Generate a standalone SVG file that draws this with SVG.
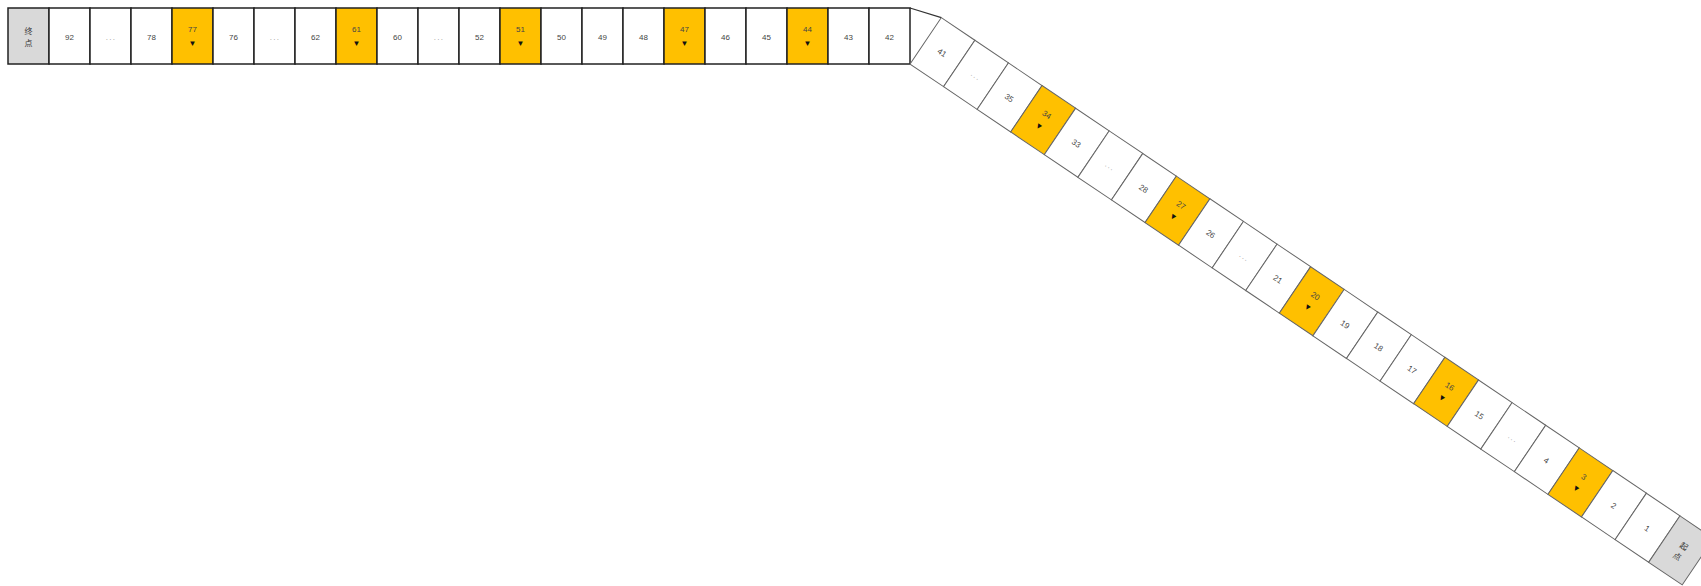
<svg xmlns="http://www.w3.org/2000/svg" width="1701" height="586" viewBox="0 0 1701 586">
<style>
.t{font-family:"Liberation Sans","Noto Sans CJK SC",sans-serif;font-size:8px;fill:#444;text-anchor:middle}
.d{fill:#999;letter-spacing:1.2px}
.c{font-family:"Noto Sans CJK SC","Liberation Sans",sans-serif;font-size:8px;fill:#333;text-anchor:middle}
.top rect{stroke:#222;stroke-width:1.5}
.diag rect{stroke:#666;stroke-width:1}
.w{fill:#fff}
.y{fill:#FFC000}
.g{fill:#d9d9d9}
.m{fill:#111}
</style>
<rect width="1701" height="586" fill="#fff"/>
<g id="connectors">
<polygon points="910,8 941.3,17.6 910,64" fill="#fff" stroke="none"/>
<polyline points="910,8 941.3,17.6" fill="none" stroke="#333" stroke-width="1.2"/>
</g>
<g class="top">
<g id="n-end"><rect class="g" x="8" y="8" width="41" height="56"/><text class="c" x="28.5" y="34">终</text><text class="c" x="28.5" y="46">点</text></g>
<g id="n92"><rect class="w" x="49" y="8" width="41" height="56"/><text class="t" x="69.5" y="39.5">92</text></g>
<g id="n-dots1"><rect class="w" x="90" y="8" width="41" height="56"/><text class="t d" x="111" y="39.5">...</text></g>
<g id="n78"><rect class="w" x="131" y="8" width="41" height="56"/><text class="t" x="151.5" y="39.5">78</text></g>
<g id="n77"><rect class="y" x="172" y="8" width="41" height="56"/><text class="t" x="192.5" y="32.3">77</text><text class="t m" x="192.5" y="46">▼</text></g>
<g id="n76"><rect class="w" x="213" y="8" width="41" height="56"/><text class="t" x="233.5" y="39.5">76</text></g>
<g id="n-dots2"><rect class="w" x="254" y="8" width="41" height="56"/><text class="t d" x="275" y="39.5">...</text></g>
<g id="n62"><rect class="w" x="295" y="8" width="41" height="56"/><text class="t" x="315.5" y="39.5">62</text></g>
<g id="n61"><rect class="y" x="336" y="8" width="41" height="56"/><text class="t" x="356.5" y="32.3">61</text><text class="t m" x="356.5" y="46">▼</text></g>
<g id="n60"><rect class="w" x="377" y="8" width="41" height="56"/><text class="t" x="397.5" y="39.5">60</text></g>
<g id="n-dots3"><rect class="w" x="418" y="8" width="41" height="56"/><text class="t d" x="439" y="39.5">...</text></g>
<g id="n52"><rect class="w" x="459" y="8" width="41" height="56"/><text class="t" x="479.5" y="39.5">52</text></g>
<g id="n51"><rect class="y" x="500" y="8" width="41" height="56"/><text class="t" x="520.5" y="32.3">51</text><text class="t m" x="520.5" y="46">▼</text></g>
<g id="n50"><rect class="w" x="541" y="8" width="41" height="56"/><text class="t" x="561.5" y="39.5">50</text></g>
<g id="n49"><rect class="w" x="582" y="8" width="41" height="56"/><text class="t" x="602.5" y="39.5">49</text></g>
<g id="n48"><rect class="w" x="623" y="8" width="41" height="56"/><text class="t" x="643.5" y="39.5">48</text></g>
<g id="n47"><rect class="y" x="664" y="8" width="41" height="56"/><text class="t" x="684.5" y="32.3">47</text><text class="t m" x="684.5" y="46">▼</text></g>
<g id="n46"><rect class="w" x="705" y="8" width="41" height="56"/><text class="t" x="725.5" y="39.5">46</text></g>
<g id="n45"><rect class="w" x="746" y="8" width="41" height="56"/><text class="t" x="766.5" y="39.5">45</text></g>
<g id="n44"><rect class="y" x="787" y="8" width="41" height="56"/><text class="t" x="807.5" y="32.3">44</text><text class="t m" x="807.5" y="46">▼</text></g>
<g id="n43"><rect class="w" x="828" y="8" width="41" height="56"/><text class="t" x="848.5" y="39.5">43</text></g>
<g id="n42"><rect class="w" x="869" y="8" width="41" height="56"/><text class="t" x="889.5" y="39.5">42</text></g>
</g>
<g class="diag" transform="translate(941.3,17.6) rotate(34)">
<g id="n41"><rect class="w" x="0" y="0" width="40.5" height="56"/><text class="t" x="20.25" y="31.5">41</text></g>
<g id="n-dots4"><rect class="w" x="40.5" y="0" width="40.5" height="56"/><text class="t d" x="61.3" y="31.5">...</text></g>
<g id="n35"><rect class="w" x="81" y="0" width="40.5" height="56"/><text class="t" x="101.25" y="31.5">35</text></g>
<g id="n34"><rect class="y" x="121.5" y="0" width="40.5" height="56"/><text class="t" x="141.75" y="24.3">34</text><text class="t m" x="141.75" y="38">▼</text></g>
<g id="n33"><rect class="w" x="162" y="0" width="40.5" height="56"/><text class="t" x="182.25" y="31.5">33</text></g>
<g id="n-dots5"><rect class="w" x="202.5" y="0" width="40.5" height="56"/><text class="t d" x="223.3" y="31.5">...</text></g>
<g id="n28"><rect class="w" x="243" y="0" width="40.5" height="56"/><text class="t" x="263.25" y="31.5">28</text></g>
<g id="n27"><rect class="y" x="283.5" y="0" width="40.5" height="56"/><text class="t" x="303.75" y="24.3">27</text><text class="t m" x="303.75" y="38">▼</text></g>
<g id="n26"><rect class="w" x="324" y="0" width="40.5" height="56"/><text class="t" x="344.25" y="31.5">26</text></g>
<g id="n-dots6"><rect class="w" x="364.5" y="0" width="40.5" height="56"/><text class="t d" x="385.3" y="31.5">...</text></g>
<g id="n21"><rect class="w" x="405" y="0" width="40.5" height="56"/><text class="t" x="425.25" y="31.5">21</text></g>
<g id="n20"><rect class="y" x="445.5" y="0" width="40.5" height="56"/><text class="t" x="465.75" y="24.3">20</text><text class="t m" x="465.75" y="38">▼</text></g>
<g id="n19"><rect class="w" x="486" y="0" width="40.5" height="56"/><text class="t" x="506.25" y="31.5">19</text></g>
<g id="n18"><rect class="w" x="526.5" y="0" width="40.5" height="56"/><text class="t" x="546.75" y="31.5">18</text></g>
<g id="n17"><rect class="w" x="567" y="0" width="40.5" height="56"/><text class="t" x="587.25" y="31.5">17</text></g>
<g id="n16"><rect class="y" x="607.5" y="0" width="40.5" height="56"/><text class="t" x="627.75" y="24.3">16</text><text class="t m" x="627.75" y="38">▼</text></g>
<g id="n15"><rect class="w" x="648" y="0" width="40.5" height="56"/><text class="t" x="668.25" y="31.5">15</text></g>
<g id="n-dots7"><rect class="w" x="688.5" y="0" width="40.5" height="56"/><text class="t d" x="709.3" y="31.5">...</text></g>
<g id="n4"><rect class="w" x="729" y="0" width="40.5" height="56"/><text class="t" x="749.25" y="31.5">4</text></g>
<g id="n3"><rect class="y" x="769.5" y="0" width="40.5" height="56"/><text class="t" x="789.75" y="24.3">3</text><text class="t m" x="789.75" y="38">▼</text></g>
<g id="n2"><rect class="w" x="810" y="0" width="40.5" height="56"/><text class="t" x="830.25" y="31.5">2</text></g>
<g id="n1"><rect class="w" x="850.5" y="0" width="40.5" height="56"/><text class="t" x="870.75" y="31.5">1</text></g>
<g id="n-start"><rect class="g" x="891" y="0" width="40.5" height="56"/><text class="c" x="911.25" y="26">起</text><text class="c" x="911.25" y="38">点</text></g>
</g>
</svg>
